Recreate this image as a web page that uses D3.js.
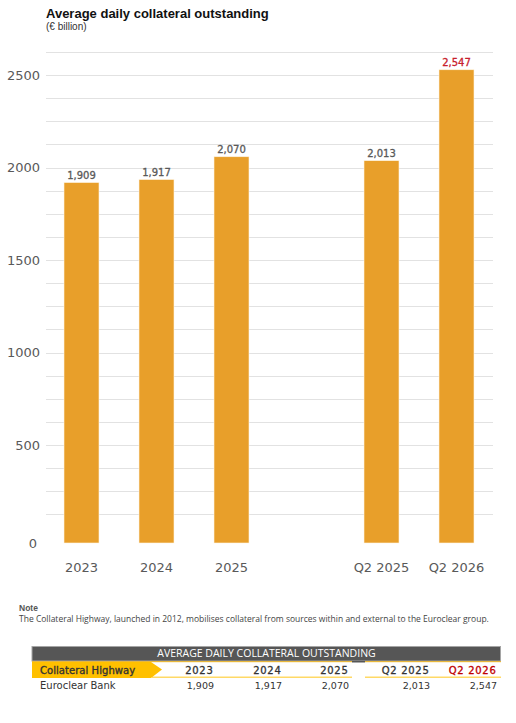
<!DOCTYPE html>
<html><head><meta charset="utf-8">
<script src="https://cdn.jsdelivr.net/npm/d3@7"></script>
<style>html,body{margin:0;padding:0;background:#fff}svg{display:block}text{font-family:"DejaVu Sans",sans-serif}</style>
</head><body><svg id="c" width="516" height="723"></svg>
<script>
const categories=["2023","2024","2025","","Q2 2025","Q2 2026"];
const barValues=[1927,1943,2065,null,2044,2530];
const valueLabels=["1,909","1,917","2,070","","2,013","2,547"];
const yTicks=[500,1000,1500,2000,2500];
const gridValues=d3.range(125,2626,125);
const tableYears=["2023","2024","2025","Q2 2025","Q2 2026"];
const tableValues=["1,909","1,917","2,070","2,013","2,547"];
const tableRight=[214,282,349,430,497];
const svg=d3.select("#c");
const x=d3.scaleBand().domain(categories).range([44,494]).paddingInner(40/75).paddingOuter(20/75);
const y=d3.scaleLinear().domain([0,2625]).range([543,52]);
const yGrid=d3.scaleLinear().domain([0,2625]).range([537.5,52]);
const grey="#595959",red="#C00000",bar="#E89F2A";
svg.append("g").selectAll("line").data(gridValues).join("line")
 .attr("x1",46).attr("x2",493).attr("y1",d=>Math.round(yGrid(d))+.5).attr("y2",d=>Math.round(yGrid(d))+.5)
 .attr("stroke","#e2e2e2").attr("stroke-width",1);
function styleY(g){g.select(".domain").remove();
 g.selectAll("text").attr("font-size",13).attr("fill",grey).style("font-family",'"DejaVu Sans",sans-serif');}
svg.append("g").attr("transform","translate(46,0)").call(d3.axisLeft(yGrid).tickValues(yTicks).tickFormat(d3.format("d")).tickSize(0).tickPadding(6)).call(styleY);
svg.append("g").attr("transform","translate(46,0)").call(d3.axisLeft(y).tickValues([0]).tickFormat(d3.format("d")).tickSize(0).tickPadding(9)).call(styleY);
const d=categories.map((c,i)=>({c,v:barValues[i],l:valueLabels[i],i})).filter(e=>e.v!==null);
svg.append("g").selectAll("rect").data(d).join("rect")
 .attr("x",e=>x(e.c)).attr("width",x.bandwidth()).attr("y",e=>y(e.v)).attr("height",e=>y(0)-y(e.v))
 .attr("fill",bar).attr("stroke","#fdf3e0").attr("stroke-width",.6);
svg.append("g").selectAll("text").data(d).join("text")
 .attr("x",e=>x(e.c)+x.bandwidth()/2).attr("y",e=>y(e.v)-4).attr("text-anchor","middle")
 .attr("font-size",10).attr("stroke-width",.3).attr("stroke",e=>e.c==="Q2 2026"?"#C8202C":grey)
 .attr("fill",e=>e.c==="Q2 2026"?"#C8202C":grey).text(e=>e.l);
const xa=svg.append("g").attr("transform","translate(0,543)").call(d3.axisBottom(x).tickValues(categories.filter(c=>c)).tickSize(0).tickPadding(16));
xa.select(".domain").remove();
xa.selectAll("text").attr("font-size",13).attr("fill",grey).attr("dy","1.0em").style("font-family",'"DejaVu Sans",sans-serif');
const T=(t,xp,yp,o={})=>svg.append("text").attr("x",xp).attr("y",yp).attr("font-size",o.s||10).attr("fill",o.f||"#333")
 .attr("font-weight",o.w||400).attr("text-anchor",o.a||"start").style("font-family",o.ff||'"DejaVu Sans",sans-serif')
 .attr("letter-spacing",o.ls||0).attr("stroke",o.b?(o.f||"#333"):"none").attr("stroke-width",o.b||0).text(t);
T("Average daily collateral outstanding",46,18,{s:13,w:700,f:"#111",ff:"'Liberation Sans',sans-serif"});
T("(€ billion)",46,30,{s:10,f:"#333",ff:"'Liberation Sans',sans-serif"});
T("Note",19,611,{s:8.5,w:700,f:"#555",ff:"'Liberation Sans',sans-serif"});
T("The Collateral Highway, launched in 2012, mobilises collateral from sources within and external to the Euroclear group.",19,622,{s:8.5,f:"#444",ff:"'Open Sans',sans-serif"});
svg.append("rect").attr("x",32).attr("y",646.5).attr("width",468.5).attr("height",14.5).attr("fill","#565656").attr("stroke","#a5a5a5").attr("stroke-width",1);
svg.append("rect").attr("x",352).attr("y",661).attr("width",13).attr("height",1.5).attr("fill","#565656");
T("AVERAGE DAILY COLLATERAL OUTSTANDING",266.5,657,{s:10.5,f:"#fff",a:"middle",ff:"'Open Sans',sans-serif"});
[[32,352],[365,501]].forEach(([a,b])=>{
 svg.append("rect").attr("x",a).attr("y",661).attr("width",b-a).attr("height",1.2).attr("fill","#E8B83C");
 svg.append("rect").attr("x",Math.max(a,152)).attr("y",676.5).attr("width",b-Math.max(a,152)).attr("height",1.5).attr("fill","#FFD966");
});
svg.append("path").attr("d",d3.line()([[32,662],[151,662],[162,669.5],[151,678],[32,678]])+"Z").attr("fill","#FFC000");
T("Collateral Highway",40,674,{s:10,f:"#333",b:.35,ls:.05});
T("Euroclear Bank",40,689,{s:10,f:"#333"});
tableYears.forEach((t,i)=>{
 const c=t==="Q2 2026"?red:"#333";
 T(t,tableRight[i]-.5,674,{s:10,a:"end",ls:.7,f:c,b:.3});
 T(tableValues[i],tableRight[i],689,{s:9.5,a:"end",f:"#333"});
});
</script></body></html>
